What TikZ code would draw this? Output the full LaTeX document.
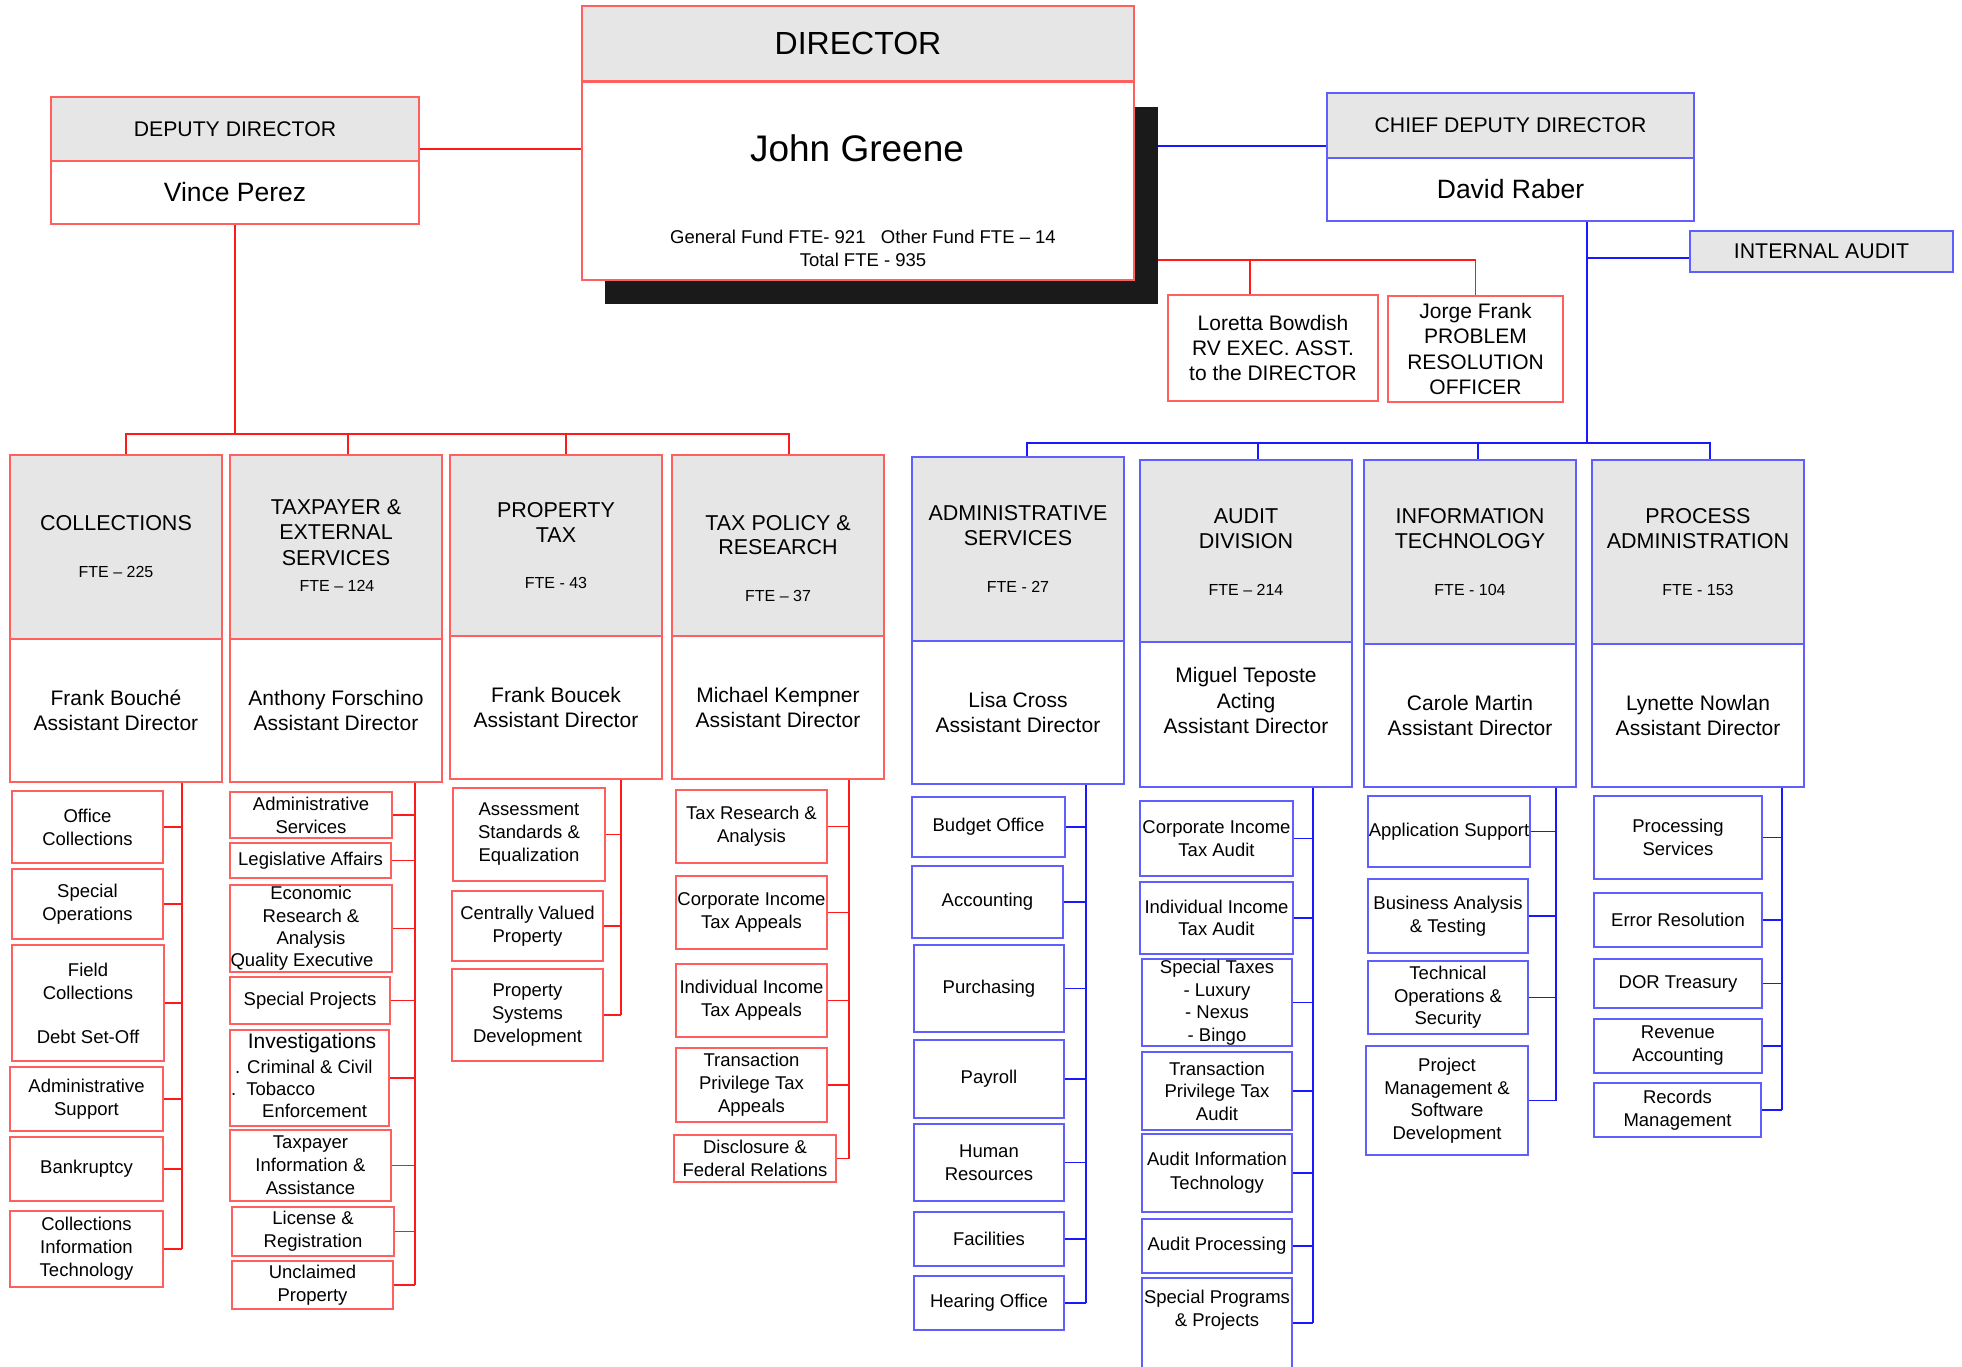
\documentclass[tikz,border=0pt]{standalone}
\usepackage{fontspec}
\setmainfont{Liberation Sans}
\usetikzlibrary{backgrounds}
\definecolor{rb}{RGB}{255,95,95}
\definecolor{rl}{RGB}{255,25,25}
\definecolor{bb}{RGB}{95,95,255}
\definecolor{bl}{RGB}{25,25,255}
\definecolor{hdrc}{RGB}{230,230,230}
\definecolor{shc}{RGB}{26,26,26}
\newcommand\fsz[2]{\fontsize{#1}{#2}\selectfont}
\newcommand\obox[7]{\node[#1, minimum width={(#5)-(#3)}, minimum height={(#6)-(#4)}] (#2) at ({((#3)+(#5))/2},{((#4)+(#6))/2}) {#7};}
\begin{document}
\begin{tikzpicture}[x=1pt,y=-1pt,
 rbox/.style={draw=rb,line width=1.8pt,fill=white,inner sep=0pt,align=center,font=\fsz{18.5}{23}},
 bbox/.style={rbox,draw=bb},
 hdr/.style={fill=hdrc},
 body/.style={font=\fsz{21}{25.5}},
 txt/.style={inner sep=0pt,align=center},
 subtxt/.style={txt,font=\fsz{18.5}{23}},
 dtitle/.style={txt,font=\fsz{21.5}{25.5}},
 fte/.style={txt,font=\fsz{16}{19}},
 rline/.style={draw=rl,line width=1.6pt},
 bline/.style={draw=bl,line width=1.6pt}]
\useasboundingbox (0,0) rectangle (1962,1367);
% shadow of director box
\fill[shc] (605,107) rectangle (1158,304);

% ---------- top level ----------
\obox{rbox,hdr,font=\fsz{32}{36}}{dirH}{582}{6}{1134}{81}{DIRECTOR}
\obox{rbox}{dirB}{582}{82}{1134}{280}{}
\node[txt,font=\fsz{37}{40}] (dirN) at (857,148) {John Greene};
\node[txt,font=\fsz{18.5}{23}] (dirF) at (863,248.5) {General Fund FTE- 921\ \ \ Other Fund FTE – 14\\Total FTE - 935};

\obox{rbox,hdr,font=\fsz{21.2}{24}}{depH}{51}{97}{419}{161}{DEPUTY DIRECTOR}
\obox{rbox,font=\fsz{26.5}{30}}{depB}{51}{161}{419}{224}{Vince Perez}
\obox{bbox,hdr,font=\fsz{21.2}{24}}{cdH}{1327}{93}{1694}{158}{CHIEF DEPUTY DIRECTOR}
\obox{bbox,font=\fsz{26.5}{30}}{cdB}{1327}{158}{1694}{221}{David Raber}
\obox{bbox,hdr,font=\fsz{21.3}{25}}{ia}{1690}{231}{1953}{272}{INTERNAL AUDIT}
\obox{rbox,font=\fsz{21}{25}}{lor}{1168}{295}{1378}{401}{Loretta Bowdish\\RV EXEC. ASST.\\to the DIRECTOR}
\obox{rbox,font=\fsz{21}{25.5}}{jor}{1388}{296}{1563}{402}{Jorge Frank\\PROBLEM\\RESOLUTION\\OFFICER}

% ---------- divisions ----------
\obox{rbox,hdr}{collH}{10}{455}{222}{639}{}
\obox{rbox,body}{collB}{10}{639}{222}{782}{Frank Bouché\\Assistant Director}
\node[dtitle] (collT) at (116,523) {COLLECTIONS};
\node[fte] (collF) at (116,572) {FTE – 225};

\obox{rbox,hdr}{txH}{230}{455}{442}{639}{}
\obox{rbox,body}{txB}{230}{639}{442}{782}{Anthony Forschino\\Assistant Director}
\node[dtitle] (txT) at (336,532.5) {TAXPAYER \&\\EXTERNAL\\SERVICES};
\node[fte] (txF) at (337,586) {FTE – 124};

\obox{rbox,hdr}{ptH}{450}{455}{662}{636}{}
\obox{rbox,body}{ptB}{450}{636}{662}{779}{Frank Boucek\\Assistant Director}
\node[dtitle,font=\fsz{21.5}{25}] (ptT) at (556,522.5) {PROPERTY\\TAX};
\node[fte] (ptF) at (556,583) {FTE - 43};

\obox{rbox,hdr}{tpH}{672}{455}{884}{636}{}
\obox{rbox,body}{tpB}{672}{636}{884}{779}{Michael Kempner\\Assistant Director}
\node[dtitle,font=\fsz{21.5}{24.5}] (tpT) at (778,535) {TAX POLICY \&\\RESEARCH};
\node[fte] (tpF) at (778,596) {FTE – 37};

\obox{bbox,hdr}{asH}{912}{457}{1124}{641}{}
\obox{bbox,body}{asB}{912}{641}{1124}{784}{Lisa Cross\\Assistant Director}
\node[dtitle,font=\fsz{21.5}{25}] (asT) at (1018,525.5) {ADMINISTRATIVE\\SERVICES};
\node[fte] (asF) at (1018,587) {FTE - 27};

\obox{bbox,hdr}{auH}{1140}{460}{1352}{642}{}
\obox{bbox,body}{auB}{1140}{642}{1352}{787}{}
\node[txt,font=\fsz{21}{25.5}] (auN) at (1246,700.5) {Miguel Teposte\\Acting\\Assistant Director};
\node[dtitle,font=\fsz{21.5}{25}] (auT) at (1246,528.5) {AUDIT\\DIVISION};
\node[fte] (auF) at (1246,590) {FTE – 214};

\obox{bbox,hdr}{itH}{1364}{460}{1576}{644}{}
\obox{bbox,body}{itB}{1364}{644}{1576}{787}{Carole Martin\\Assistant Director}
\node[dtitle,font=\fsz{21.5}{25}] (itT) at (1470,528.5) {INFORMATION\\TECHNOLOGY};
\node[fte] (itF) at (1470,590) {FTE - 104};

\obox{bbox,hdr}{paH}{1592}{460}{1804}{644}{}
\obox{bbox,body}{paB}{1592}{644}{1804}{787}{Lynette Nowlan\\Assistant Director}
\node[dtitle,font=\fsz{21.5}{25}] (paT) at (1698,528.5) {PROCESS\\ADMINISTRATION};
\node[fte] (paF) at (1698,590) {FTE - 153};

% ---------- Collections units ----------
\obox{rbox}{c1}{12}{791}{163}{863}{Office\\Collections}
\obox{rbox}{c2}{12}{869}{163}{939}{Special\\Operations}
\obox{rbox}{c3}{12}{945}{164}{1061}{Field\\Collections\\[21pt]Debt Set-Off}
\obox{rbox}{c4}{10}{1067}{163}{1131}{Administrative\\Support}
\obox{rbox}{c5}{10}{1137}{163}{1201}{Bankruptcy}
\obox{rbox}{c6}{10}{1211}{163}{1287}{Collections\\Information\\Technology}

% ---------- Taxpayer units ----------
\obox{rbox}{t1}{230}{792}{392}{838}{Administrative\\Services}
\obox{rbox}{t2}{230}{843}{391}{878}{Legislative Affairs}
\obox{rbox,font=\fsz{18.5}{22.3}}{t3}{230}{885}{392}{972}{Economic\\Research \&\\Analysis\\\hspace*{-18pt}Quality Executive}
\obox{rbox}{t4}{230}{977}{390}{1024}{Special Projects}
\obox{rbox}{t5}{230}{1030}{389}{1126}{}
\node[txt,font=\fsz{21}{24}] (invA) at (312,1043) {Investigations};
\node[subtxt,anchor=west] (invB) at (235,1067) {. Criminal \& Civil};
\node[subtxt,anchor=west] (invC) at (231,1089) {.\hspace*{10pt}Tobacco};
\node[subtxt,anchor=west] (invD) at (262,1111) {Enforcement};
\obox{rbox}{t6}{230}{1130}{391}{1201}{Taxpayer\\Information \&\\Assistance}
\obox{rbox}{t7}{232}{1207}{394}{1256}{License \&\\Registration}
\obox{rbox}{t8}{232}{1261}{393}{1309}{Unclaimed\\Property}

% ---------- Property units ----------
\obox{rbox}{p1}{453}{788}{605}{881}{Assessment\\Standards \&\\Equalization}
\obox{rbox}{p2}{452}{891}{603}{961}{Centrally Valued\\Property}
\obox{rbox}{p3}{452}{969}{603}{1061}{Property\\Systems\\Development}

% ---------- Tax policy units ----------
\obox{rbox}{r1}{676}{790}{827}{863}{Tax Research \&\\Analysis}
\obox{rbox}{r2}{676}{876}{827}{949}{Corporate Income\\Tax Appeals}
\obox{rbox}{r3}{676}{964}{827}{1037}{Individual Income\\Tax Appeals}
\obox{rbox}{r4}{676}{1048}{827}{1122}{Transaction\\Privilege Tax\\Appeals}
\obox{rbox}{r5}{674}{1135}{836}{1182}{Disclosure \&\\Federal Relations}

% ---------- Admin units ----------
\obox{bbox}{a1}{912}{797}{1065}{857}{Budget Office}
\obox{bbox}{a2}{912}{866}{1063}{938}{Accounting}
\obox{bbox}{a3}{914}{945}{1064}{1032}{Purchasing}
\obox{bbox}{a4}{914}{1040}{1064}{1118}{Payroll}
\obox{bbox,font=\fsz{18.5}{23.5}}{a5}{914}{1124}{1064}{1201}{Human\\Resources}
\obox{bbox}{a6}{914}{1212}{1064}{1266}{Facilities}
\obox{bbox}{a7}{914}{1276}{1064}{1330}{Hearing Office}

% ---------- Audit units ----------
\obox{bbox,font=\fsz{18.5}{22.5}}{d1}{1140}{801}{1293}{876}{Corporate Income\\Tax Audit}
\obox{bbox,font=\fsz{18.5}{22.5}}{d2}{1140}{882}{1293}{954}{Individual Income\\Tax Audit}
\obox{bbox,font=\fsz{18.5}{22.5}}{d3}{1142}{959}{1292}{1046}{Special Taxes\\- Luxury\\- Nexus\\- Bingo}
\obox{bbox,font=\fsz{18.5}{22.5}}{d4}{1142}{1052}{1292}{1130}{Transaction\\Privilege Tax\\Audit}
\obox{bbox,font=\fsz{18.5}{24}}{d5}{1142}{1134}{1292}{1212}{Audit Information\\Technology}
\obox{bbox}{d6}{1142}{1219}{1292}{1273}{Audit Processing}
\obox{bbox}{d7}{1142}{1278}{1292}{1400}{}
\node[txt,font=\fsz{18.5}{23}] (d7t) at (1217,1310.5) {Special Programs\\\& Projects};

% ---------- IT units ----------
\obox{bbox,font=\fsz{18.5}{22.5}}{i1}{1368}{796}{1530}{867}{Application Support}
\obox{bbox,font=\fsz{18.5}{22.5}}{i2}{1368}{879}{1528}{953}{Business Analysis\\\& Testing}
\obox{bbox,font=\fsz{18.5}{22.5}}{i3}{1368}{961}{1528}{1034}{Technical\\Operations \&\\Security}
\obox{bbox,font=\fsz{18.5}{22.5}}{i4}{1366}{1046}{1528}{1155}{Project\\Management \&\\Software\\Development}

% ---------- Process units ----------
\obox{bbox}{s1}{1594}{796}{1762}{879}{Processing\\Services}
\obox{bbox}{s2}{1594}{893}{1762}{947}{Error Resolution}
\obox{bbox}{s3}{1594}{959}{1762}{1008}{DOR Treasury}
\obox{bbox}{s4}{1594}{1019}{1762}{1073}{Revenue\\Accounting}
\obox{bbox}{s5}{1594}{1083}{1761}{1137}{Records\\Management}

% ---------- helper coordinates ----------
\coordinate (yDD) at (0,149);
\coordinate (yCD) at (0,146);
\coordinate (yAs) at (0,260);
\coordinate (xLor) at (1250,0);
\coordinate (lbar) at (0,434);
\coordinate (rbar) at (0,443);
\coordinate (xCD) at (1587,0);
\coordinate (yIA) at (0,258);
\coordinate (x1) at (126,0);
\coordinate (x2) at (348,0);
\coordinate (x3) at (566,0);
\coordinate (x4) at (789,0);
\coordinate (x5) at (1027,0);
\coordinate (x6) at (1258,0);
\coordinate (x7) at (1478,0);
\coordinate (x8) at (1710,0);
\coordinate (xA) at (182,0);
\coordinate (xB) at (415,0);
\coordinate (xC) at (621,0);
\coordinate (xD) at (849,0);
\coordinate (xE) at (1086,0);
\coordinate (xF) at (1313,0);
\coordinate (xG) at (1556,0);
\coordinate (xH) at (1782,0);
\coordinate (yD7) at (0,1323);

% ---------- connectors ----------
\begin{scope}[on background layer]
\draw[rline] (depH.east |- yDD) -- (dirB.west |- yDD);
\draw[bline] (dirB.east |- yCD) -- (cdH.west |- yCD);
\draw[rline] (dirB.east |- yAs) -- (jor.north |- yAs) -- (jor.north);
\draw[rline] (xLor |- yAs) -- (xLor |- lor.north);
\draw[rline] (depB.south) -- (depB.south |- lbar);
\draw[rline] (x1 |- collH.north) -- (x1 |- lbar) -- (x4 |- lbar) -- (x4 |- tpH.north);
\draw[rline] (x2 |- lbar) -- (x2 |- txH.north);
\draw[rline] (x3 |- lbar) -- (x3 |- ptH.north);
\draw[bline] (xCD |- cdB.south) -- (xCD |- rbar);
\draw[bline] (xCD |- yIA) -- (ia.west |- yIA);
\draw[bline] (x5 |- asH.north) -- (x5 |- rbar) -- (x8 |- rbar) -- (x8 |- paH.north);
\draw[bline] (x6 |- rbar) -- (x6 |- auH.north);
\draw[bline] (x7 |- rbar) -- (x7 |- itH.north);
% columns
\draw[rline] (xA |- collB.south) -- (xA |- c6.east);
\foreach \n in {c1,c2,c3,c4,c5,c6} \draw[rline] (\n.east) -- (\n.east -| xA);
\draw[rline] (xB |- txB.south) -- (xB |- t8.east);
\foreach \n in {t1,t2,t3,t4,t5,t6,t7,t8} \draw[rline] (\n.east) -- (\n.east -| xB);
\draw[rline] (xC |- ptB.south) -- (xC |- p3.east);
\foreach \n in {p1,p2,p3} \draw[rline] (\n.east) -- (\n.east -| xC);
\draw[rline] (xD |- tpB.south) -- (xD |- r5.east);
\foreach \n in {r1,r2,r3,r4,r5} \draw[rline] (\n.east) -- (\n.east -| xD);
\draw[bline] (xE |- asB.south) -- (xE |- a7.east);
\foreach \n in {a1,a2,a3,a4,a5,a6,a7} \draw[bline] (\n.east) -- (\n.east -| xE);
\draw[bline] (xF |- auB.south) -- (xF |- yD7);
\foreach \n in {d1,d2,d3,d4,d5,d6} \draw[bline] (\n.east) -- (\n.east -| xF);
\draw[bline] (d7.east |- yD7) -- (xF |- yD7);
\draw[bline] (xG |- itB.south) -- (xG |- i4.east);
\foreach \n in {i1,i2,i3,i4} \draw[bline] (\n.east) -- (\n.east -| xG);
\draw[bline] (xH |- paB.south) -- (xH |- s5.east);
\foreach \n in {s1,s2,s3,s4,s5} \draw[bline] (\n.east) -- (\n.east -| xH);
\end{scope}
\end{tikzpicture}
\end{document}
